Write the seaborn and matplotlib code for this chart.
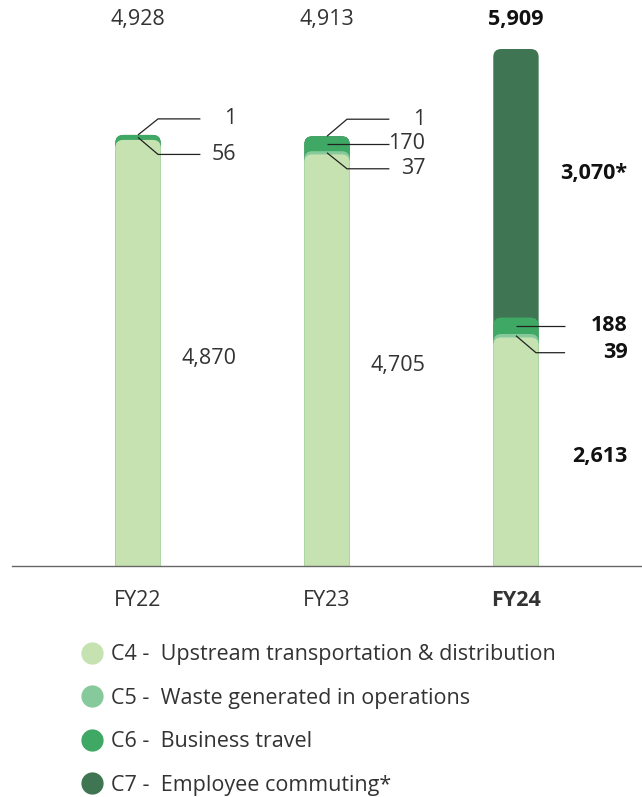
import numpy as np
import pandas as pd
import matplotlib
matplotlib.use("Agg")
import matplotlib.pyplot as plt
from matplotlib.patches import FancyBboxPatch
from matplotlib.lines import Line2D
import seaborn as sns

# data
years = ["FY22", "FY23", "FY24"]
c4 = [4870, 4705, 2613]
c5 = [1, 37, 39]
c6 = [56, 170, 188]
c7 = [1, 1, 3070]
totals = ["4,928", "4,913", "5,909"]
c4_labels = ["4,870", "4,705", "2,613"]
c7_label = "3,070*"
legend_labels = [
    "C4 -  Upstream transportation & distribution",
    "C5 -  Waste generated in operations",
    "C6 -  Business travel",
    "C7 -  Employee commuting*",
]
colors = ["#c5e2b0", "#86c99b", "#3ea864", "#3f7552"]
txt = "#333333"
fs = 15.5

sns.set_theme(style="white")
plt.rcParams["font.family"] = ["Open Sans", "DejaVu Sans"]

fig = plt.figure(figsize=(6.42, 7.97), dpi=100)
ax = fig.add_axes([12 / 642, (797 - 566) / 797, 630 / 642, 566 / 797])

df = pd.DataFrame({"year": years, "c4": c4, "c5": c5, "c6": c6, "c7": c7})
df["s4"] = df["c4"]
df["s5"] = df["s4"] + df["c5"]
df["s6"] = df["s5"] + df["c6"]
df["s7"] = df["s6"] + df["c7"]

bar_w = 0.24
for col, colr in zip(["s7", "s6", "s5", "s4"], colors[::-1]):
    sns.barplot(data=df, x="year", y=col, color=colr, saturation=1,
                width=bar_w, ax=ax)

ymax = 6470
ax.set_xlim(-0.667, 2.667)
ax.set_ylim(0, ymax)

# round the bar tops
px_x = 630 / (2.667 + 0.667)
px_y = 566 / ymax
aspect = px_x / px_y
r = 8 / px_x
for p in list(ax.patches):
    x0, y0 = p.get_x(), p.get_y()
    w, h = p.get_width(), p.get_height()
    fc = p.get_facecolor()
    p.remove()
    ax.add_patch(FancyBboxPatch((x0, y0 - r * aspect), w, h + r * aspect,
                                boxstyle=f"round,pad=0,rounding_size={r}",
                                mutation_aspect=aspect, facecolor=fc,
                                edgecolor="none", zorder=2))

ax.set_xlabel("")
ax.set_ylabel("")
ax.set_yticks([])
ax.set_xticks(range(3))
ax.set_xticklabels(years, fontsize=fs, color=txt)
ax.get_xticklabels()[2].set_fontweight("bold")
ax.tick_params(axis="x", length=0, pad=17)
for s in ["top", "left", "right"]:
    ax.spines[s].set_visible(False)
ax.spines["bottom"].set_color("#666666")
ax.spines["bottom"].set_linewidth(1)

# totals
for i, t in enumerate(totals):
    ax.text(i, 0.966, t, transform=ax.get_xaxis_transform(), ha="center",
            va="center", fontsize=fs, color=txt if i < 2 else "#111111",
            fontweight="bold" if i == 2 else "normal")

# segment labels
label_dx = [0.52, 0.52, 0.59]
for i in range(3):
    bold = i == 2
    fw = "bold" if bold else "normal"
    col = "#111111" if bold else txt
    ax.text(i + label_dx[i], c4[i] / 2 - 60, c4_labels[i], ha="right",
            va="center", fontsize=fs, fontweight=fw, color=col)

ax.text(2 + label_dx[2], df["s6"][2] + c7[2] / 2 + 110, c7_label,
        ha="right", va="center", fontsize=fs, fontweight="bold", color="#111111")

lw = 0.9
lc = "#222222"


def leader(i, y_bar, dy_px, text, end_dx, bold=False):
    y_end = y_bar + dy_px / px_y
    if dy_px == 0:
        xs, ys = [i, i + end_dx], [y_bar, y_bar]
    else:
        xs = [i, i + 20 / px_x, i + end_dx]
        ys = [y_bar, y_end, y_end]
    ax.plot(xs, ys, color=lc, lw=lw, zorder=3, solid_capstyle="butt")
    ax.text(i + label_dx[i], y_end, text, ha="right", va="center",
            fontsize=fs, fontweight="bold" if bold else "normal",
            color="#111111" if bold else txt)


# FY22
leader(0, df["s7"][0], 16, str(c7[0]), 0.33)
leader(0, df["s5"][0] + c6[0] / 2, -17, str(c6[0]), 0.33)
# FY23
leader(1, df["s7"][1], 17, str(c7[1]), 0.33)
leader(1, df["s5"][1] + c6[1] / 2, 0, str(c6[1]), 0.33)
leader(1, df["s4"][1] + c5[1] / 2, -16, str(c5[1]), 0.33)
# FY24
leader(2, df["s5"][2] + c6[2] / 2, 0, str(c6[2]), 0.26, bold=True)
leader(2, df["s4"][2] + c5[2] / 2, -17, str(c5[2]), 0.26, bold=True)

# legend
handles = [Line2D([], [], marker="o", ls="", markersize=15,
                  markerfacecolor=c, markeredgecolor=c) for c in colors]
fig.legend(handles, legend_labels, loc="upper left",
           bbox_to_anchor=(60 / 642, 1 - 625 / 797), frameon=False,
           fontsize=fs, labelcolor=txt, labelspacing=1.04,
           handletextpad=0.25, handlelength=1.2)

fig.savefig("out.png", dpi=100)
